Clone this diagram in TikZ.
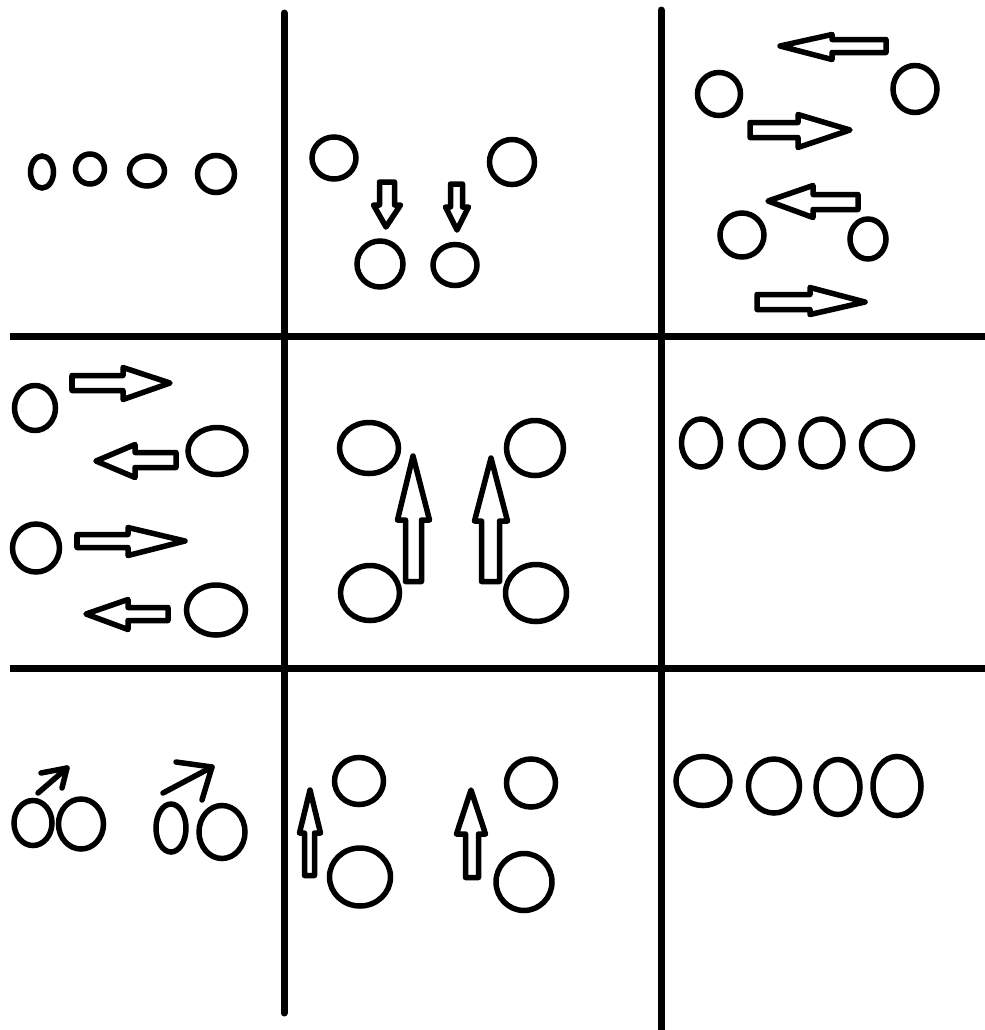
\documentclass[tikz,border=0pt]{standalone}
\usepackage{tikz}

\begin{document}
\begin{tikzpicture}[x=0.01cm, y=-0.01cm,
  wall/.style={line width=0.07cm, line cap=round},
  ball/.style={line width=0.055cm},
  blk/.style={line width=0.055cm, line join=round},
  stick/.style={line width=0.055cm, line cap=round, line join=round}]
\useasboundingbox (0,0) rectangle (984,1030);

\draw[wall] (284,13) -- (284,1013);
\draw[wall] (661,10) -- (661,1032);
\draw[wall, line cap=butt] (10,336.5) -- (986,336.5);
\draw[wall, line cap=butt] (10,668) -- (986,668);

\draw[ball] (42,172) ellipse [x radius=11.5, y radius=16];
\draw[ball] (90,169) ellipse [x radius=14.5, y radius=15];
\draw[ball] (147,171) ellipse [x radius=17.5, y radius=15];
\draw[ball] (216,174) ellipse [x radius=18.5, y radius=18.5];

\draw[ball] (334,158) ellipse [x radius=22, y radius=21];
\draw[ball] (512,162) ellipse [x radius=22.5, y radius=22.5];
\draw[ball] (380,264) ellipse [x radius=23, y radius=23];
\draw[ball] (455,265) ellipse [x radius=22, y radius=20.5];
\draw[blk] (379.5,182) -- (394.5,182) -- (394.5,205) -- (400.5,205) -- (386,227)
  -- (373.5,205) -- (379.5,205) -- cycle;
\draw[blk] (450.5,184) -- (462.5,184) -- (462.5,207) -- (468.5,207) -- (457,230)
  -- (445.5,207) -- (450.5,207) -- cycle;

\draw[ball] (719,94) ellipse [x radius=21.5, y radius=21.5];
\draw[ball] (915,89) ellipse [x radius=22, y radius=23.5];
\draw[ball] (742,235) ellipse [x radius=22, y radius=22];
\draw[ball] (868,239) ellipse [x radius=18, y radius=20];
\draw[blk] (886,39.5) -- (832,39.5) -- (832,34.5) -- (780,46) -- (832,59.5)
  -- (832,52.5) -- (886,52.5) -- cycle;
\draw[blk] (750,122.5) -- (798,122.5) -- (798,114.5) -- (850,130) -- (798,147.5)
  -- (798,137.5) -- (750,137.5) -- cycle;
\draw[blk] (858,194.5) -- (813,194.5) -- (813,185.5) -- (768,201) -- (813,217.5)
  -- (813,209.5) -- (858,209.5) -- cycle;
\draw[blk] (757,294.5) -- (810,294.5) -- (810,287.5) -- (865,302) -- (810,314.5)
  -- (810,309.5) -- (757,309.5) -- cycle;

\draw[ball] (35,408) ellipse [x radius=20.5, y radius=22.5];
\draw[ball] (217,451) ellipse [x radius=29, y radius=23.5];
\draw[ball] (36,548) ellipse [x radius=23.5, y radius=24];
\draw[ball] (216,610) ellipse [x radius=29.5, y radius=25];
\draw[blk] (72,375.5) -- (123,375.5) -- (123,367.5) -- (170,383) -- (123,399.5)
  -- (123,390.5) -- (72,390.5) -- cycle;
\draw[blk] (176,452.5) -- (135,452.5) -- (135,444.5) -- (96,461) -- (135,477.5)
  -- (135,467.5) -- (176,467.5) -- cycle;
\draw[blk] (77,534.5) -- (128,534.5) -- (128,527.5) -- (185,541) -- (128,555.5)
  -- (128,547.5) -- (77,547.5) -- cycle;
\draw[blk] (168,607.5) -- (128,607.5) -- (128,599.5) -- (86,614) -- (128,629.5)
  -- (128,620.5) -- (168,620.5) -- cycle;

\draw[ball] (369,448) ellipse [x radius=29.5, y radius=25.5];
\draw[ball] (535,448) ellipse [x radius=28.5, y radius=27.5];
\draw[ball] (370,593) ellipse [x radius=29.5, y radius=27.5];
\draw[ball] (536,593) ellipse [x radius=30.5, y radius=28.5];
\draw[blk] (405.5,581.5) -- (405.5,520) -- (397.5,520) -- (413,456) -- (429.5,520)
  -- (421.5,520) -- (421.5,581.5) -- cycle;
\draw[blk] (481.5,581.5) -- (481.5,521) -- (474.5,521) -- (491,458) -- (507.5,521)
  -- (499.5,521) -- (499.5,581.5) -- cycle;

\draw[ball] (701,443) ellipse [x radius=19.5, y radius=24];
\draw[ball] (762,444) ellipse [x radius=21, y radius=23.5];
\draw[ball] (822,443) ellipse [x radius=21, y radius=24];
\draw[ball] (887,445) ellipse [x radius=25.5, y radius=24];

\draw[ball] (33,823) ellipse [x radius=19, y radius=22.5];
\draw[ball] (81,824) ellipse [x radius=22.5, y radius=25];
\draw[ball] (171,828) ellipse [x radius=15, y radius=24];
\draw[ball] (222,832) ellipse [x radius=23, y radius=26.5];
\draw[stick] (38,793) -- (67,768);
\draw[stick] (41,773) -- (67,768) -- (62,788);
\draw[stick] (163,793) -- (212,767);
\draw[stick] (176,762) -- (212,767) -- (202,800);

\draw[ball] (359,781) ellipse [x radius=24.5, y radius=23.5];
\draw[ball] (360,877) ellipse [x radius=30.5, y radius=29];
\draw[ball] (531,783) ellipse [x radius=24.5, y radius=24];
\draw[ball] (524,882) ellipse [x radius=28, y radius=28.5];
\draw[blk] (304.5,875.5) -- (304.5,833) -- (299.5,833) -- (310,790) -- (320.5,833)
  -- (314.5,833) -- (314.5,875.5) -- cycle;
\draw[blk] (465.5,877.5) -- (465.5,834) -- (456.5,834) -- (471,790) -- (485.5,834)
  -- (478.5,834) -- (478.5,877.5) -- cycle;

\draw[ball] (703,781) ellipse [x radius=27, y radius=24.5];
\draw[ball] (774,786) ellipse [x radius=25.5, y radius=27];
\draw[ball] (838,787) ellipse [x radius=22, y radius=27.5];
\draw[ball] (897,786) ellipse [x radius=24, y radius=29.5];
\end{tikzpicture}
\end{document}
